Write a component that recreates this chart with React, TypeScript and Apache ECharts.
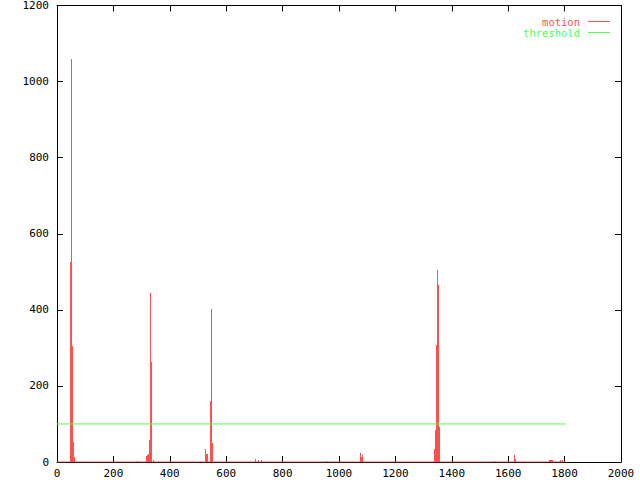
import React, { useEffect, useRef } from "react";
import * as echarts from "echarts";

const motionX = [0, 48, 51, 55, 58, 62, 285, 317, 321, 324, 328, 331, 335, 342, 526, 530, 533, 544, 547, 551, 703, 714, 724, 954, 1075, 1079, 1082, 1337, 1341, 1345, 1348, 1352, 1355, 1553, 1621, 1625, 1748, 1751, 1755, 1758, 1784, 1787, 1791, 1804];
const motionY = [0, 527, 1060, 305, 53, 13, 3, 16, 18, 21, 58, 445, 263, 5, 35, 20, 22, 160, 402, 50, 8, 5, 5, 3, 24, 13, 18, 34, 84, 307, 504, 465, 93, 3, 18, 7, 5, 5, 5, 5, 3, 5, 5, 0];
const thresholdX = [0, 1804];
const thresholdY = [100, 100];
const seriesNames = ["motion", "threshold"];
const RED = "#ff5050";
const GREEN = "#50ff50";
const FONT = "DejaVu Sans Mono";

export default function App() {
  const ref = useRef<HTMLDivElement>(null);
  useEffect(() => {
    if (!ref.current) return;
    const chart = echarts.init(ref.current, undefined, { renderer: "svg" });
    const motionData = motionX.map((x, i) => [x, motionY[i]]);
    const thrData = thresholdX.map((x, i) => [x, thresholdY[i]]);
    const baseData = [
      [motionX[0], 0],
      [motionX[motionX.length - 1], 0],
    ];
    const axisCommon = {
      axisLine: { show: true, onZero: false, lineStyle: { color: "#000", width: 1 } },
      axisTick: { show: true, inside: true, length: 6, lineStyle: { color: "#000" } },
      splitLine: { show: false },
    };
    const labelStyle = {
      color: "#000",
      fontFamily: FONT,
      fontSize: 11,
      formatter: (v: number) => String(v),
    };
    chart.setOption({
      animation: false,
      backgroundColor: "#fff",
      grid: { left: 57, right: 19, top: 5, bottom: 18 },
      xAxis: [
        { type: "value", min: 0, max: 2000, interval: 200, position: "bottom", ...axisCommon, axisLabel: { ...labelStyle, margin: 6 } },
        { type: "value", min: 0, max: 2000, interval: 200, position: "top", ...axisCommon, axisLabel: { show: false } },
      ],
      yAxis: [
        { type: "value", min: 0, max: 1200, interval: 200, position: "left", ...axisCommon, axisLabel: { ...labelStyle, margin: 8 } },
        { type: "value", min: 0, max: 1200, interval: 200, position: "right", ...axisCommon, axisLabel: { show: false } },
      ],
      series: [
        {
          name: seriesNames[0],
          type: "custom",
          xAxisIndex: 0,
          yAxisIndex: 0,
          z: 3,
          data: motionData,
          renderItem: (params: any, api: any) => {
            const x = api.value(0);
            const v = api.value(1);
            const top = api.coord([x, v]);
            const base = api.coord([x, 0]);
            const px = Math.floor(top[0]);
            const yt = Math.round(top[1]);
            const yb = Math.round(base[1]);
            if (yb - yt <= 0) return null;
            return {
              type: "rect",
              shape: { x: px, y: yt, width: 1, height: yb - yt },
              style: { fill: RED },
            };
          },
        },
        {
          name: seriesNames[0] + "-base",
          type: "line",
          data: baseData,
          symbol: "none",
          z: 4,
          lineStyle: { color: RED, width: 1 },
        },
        {
          name: seriesNames[1],
          type: "line",
          data: thrData,
          symbol: "none",
          z: 4,
          lineStyle: { color: GREEN, width: 1 },
        },
      ],
      graphic: [
        { type: "text", x: 580, y: 21.5, style: { text: seriesNames[0], fill: RED, font: `10.5px '${FONT}'`, textAlign: "right", textVerticalAlign: "middle" } },
        { type: "line", shape: { x1: 588, y1: 21.5, x2: 610, y2: 21.5 }, style: { stroke: RED, lineWidth: 1 } },
        { type: "text", x: 580, y: 32.5, style: { text: seriesNames[1], fill: GREEN, font: `10.5px '${FONT}'`, textAlign: "right", textVerticalAlign: "middle" } },
        { type: "line", shape: { x1: 588, y1: 32.5, x2: 610, y2: 32.5 }, style: { stroke: GREEN, lineWidth: 1 } },
      ],
    });
    return () => chart.dispose();
  }, []);
  return (
    <div
      ref={ref}
      style={{ position: "fixed", left: 0, top: 0, width: 640, height: 480, background: "#fff" }}
    />
  );
}
